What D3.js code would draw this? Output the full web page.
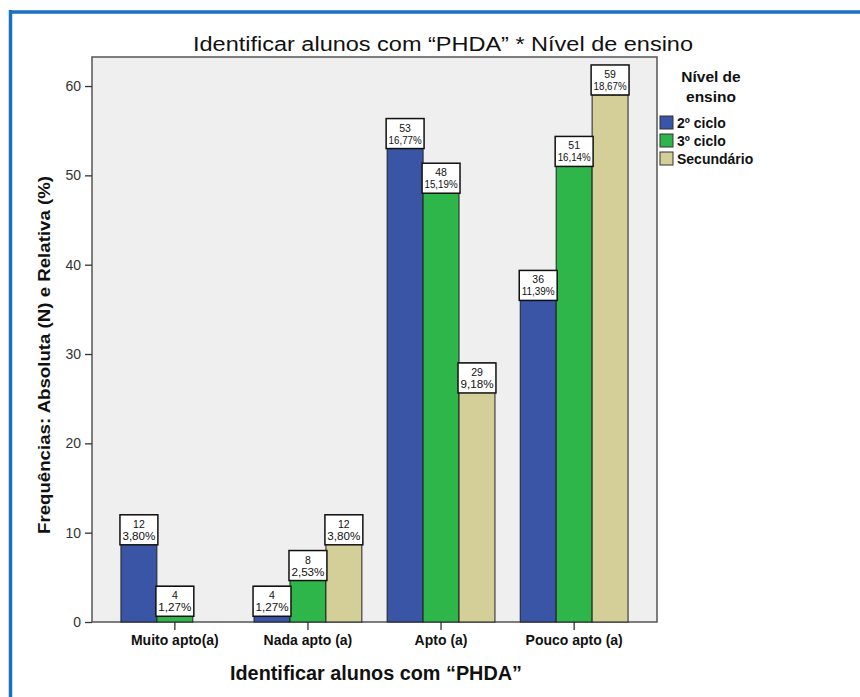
<!DOCTYPE html>
<html><head><meta charset="utf-8">
<script src="https://cdn.jsdelivr.net/npm/d3@7"></script>
<style>body{margin:0;background:#fff}svg{display:block}</style>
</head><body>
<script>
const categories = ["Muito apto(a)", "Nada apto (a)", "Apto (a)", "Pouco apto (a)"];
const seriesNames = ["2º ciclo", "3º ciclo", "Secundário"];
const counts2 = [12, 4, 53, 36];
const counts3 = [4, 8, 48, 51];
const countsSec = [0, 12, 29, 59];
const pct2 = ["3,80%", "1,27%", "16,77%", "11,39%"];
const pct3 = ["1,27%", "2,53%", "15,19%", "16,14%"];
const pctSec = ["", "3,80%", "9,18%", "18,67%"];
const yTicks = [0, 10, 20, 30, 40, 50, 60];
const colors = ["#3a54a6", "#2eb64a", "#d4cf98"];

(function () {
const W = 860, H = 697;
const svg = d3.select("body").append("svg").attr("width", W).attr("height", H);
const font = "'Liberation Sans Narrow','Arial Narrow','Liberation Sans',Arial,sans-serif";
const fontReg = "'Liberation Sans',Arial,sans-serif";

svg.append("rect").attr("x", 0).attr("y", 0).attr("width", W).attr("height", H).attr("fill", "#fff");
svg.append("line").attr("x1", 9).attr("x2", W).attr("y1", 12).attr("y2", 12).attr("stroke", "#1a6fbf").attr("stroke-width", 3.5);
svg.append("line").attr("x1", 10.5).attr("x2", 10.5).attr("y1", 10).attr("y2", H).attr("stroke", "#1a6fbf").attr("stroke-width", 3.5);

const pL = 92, pR = 657, pT = 57, pB = 622;
const x = d3.scaleBand().domain(categories).range([pL, pR]).paddingInner(0.19).paddingOuter(0.2175);
const xs = d3.scaleBand().domain(seriesNames).range([0, x.bandwidth()]);
const y = d3.scaleLinear().domain([0, 63.25]).range([pB, pT]);

svg.append("rect").attr("x", pL).attr("y", pT).attr("width", pR - pL).attr("height", pB - pT)
  .attr("fill", "#efefef").attr("stroke", "#555").attr("stroke-width", 1.5);

const yAxis = svg.append("g").attr("transform", `translate(${pL},0)`)
  .call(d3.axisLeft(y).tickValues(yTicks).tickSize(7).tickSizeOuter(0));
yAxis.select(".domain").remove();
yAxis.selectAll("line").attr("stroke", "#333").attr("stroke-width", 1.3);
yAxis.selectAll("text").attr("font-family", fontReg).attr("font-size", 14).attr("fill", "#333").attr("dx", -1);

const xAxis = svg.append("g").attr("transform", `translate(0,${pB})`)
  .call(d3.axisBottom(x).tickSize(8).tickSizeOuter(0).tickPadding(5));
xAxis.select(".domain").remove();
xAxis.selectAll("line").attr("stroke", "#333").attr("stroke-width", 1.3);
xAxis.selectAll("text").attr("font-family", font).attr("font-size", 14).attr("font-weight", "bold").attr("fill", "#111");

const series = [
  {name: seriesNames[0], vals: counts2, pct: pct2},
  {name: seriesNames[1], vals: counts3, pct: pct3},
  {name: seriesNames[2], vals: countsSec, pct: pctSec}
];

series.forEach((s, si) => {
  const g = svg.append("g");
  categories.forEach((c, ci) => {
    const v = s.vals[ci];
    if (!v) return;
    const bx = x(c) + xs(s.name);
    const bw = xs.bandwidth();
    g.append("rect").attr("x", bx).attr("y", y(v)).attr("width", bw).attr("height", y(0) - y(v))
      .attr("fill", colors[si]).attr("stroke", "#222").attr("stroke-width", 1);
  });
});

series.forEach((s, si) => {
  categories.forEach((c, ci) => {
    const v = s.vals[ci];
    if (!v) return;
    const bx = x(c) + xs(s.name);
    const bw = xs.bandwidth();
    const bh = 30, bwid = bw + 2;
    const by = v >= 30 ? y(v) - bh : y(v);
    const g = svg.append("g");
    g.append("rect").attr("x", bx + bw / 2 - bwid / 2).attr("y", by).attr("width", bwid).attr("height", bh)
      .attr("fill", "#fff").attr("stroke", "#111").attr("stroke-width", 1.5);
    g.append("text").attr("x", bx + bw / 2).attr("y", by + 13).attr("text-anchor", "middle")
      .attr("font-family", font).attr("font-size", 10.5).attr("fill", "#111").text(v);
    g.append("text").attr("x", bx + bw / 2).attr("y", by + 25).attr("text-anchor", "middle")
      .attr("font-family", font).attr("font-size", 10.5).attr("fill", "#111")
      .attr("textLength", 33).attr("lengthAdjust", "spacingAndGlyphs").text(s.pct[ci]);
  });
});

svg.append("text").attr("x", 443).attr("y", 51).attr("text-anchor", "middle")
  .attr("font-family", font).attr("font-size", 20).attr("fill", "#111")
  .attr("textLength", 500).attr("lengthAdjust", "spacingAndGlyphs")
  .text("Identificar alunos com “PHDA” * Nível de ensino");

svg.append("text").attr("x", 376).attr("y", 680).attr("text-anchor", "middle")
  .attr("font-family", font).attr("font-size", 20).attr("font-weight", "bold").attr("fill", "#111")
  .attr("textLength", 292).attr("lengthAdjust", "spacingAndGlyphs")
  .text("Identificar alunos com “PHDA”");

svg.append("text").attr("transform", "translate(50,355) rotate(-90)").attr("text-anchor", "middle")
  .attr("font-family", fontReg).attr("font-size", 17).attr("font-weight", "bold").attr("fill", "#111")
  .attr("textLength", 358).attr("lengthAdjust", "spacingAndGlyphs")
  .text("Frequências: Absoluta (N) e Relativa (%)");

const lg = svg.append("g");
lg.append("text").attr("x", 711).attr("y", 82).attr("text-anchor", "middle")
  .attr("font-family", fontReg).attr("font-size", 15.5).attr("font-weight", "bold").attr("fill", "#111").text("Nível de");
lg.append("text").attr("x", 711).attr("y", 102).attr("text-anchor", "middle")
  .attr("font-family", fontReg).attr("font-size", 15.5).attr("font-weight", "bold").attr("fill", "#111").text("ensino");
seriesNames.forEach((n, i) => {
  lg.append("rect").attr("x", 660).attr("y", 116 + i * 18).attr("width", 13).attr("height", 13)
    .attr("fill", colors[i]).attr("stroke", "#333").attr("stroke-width", 1);
  lg.append("text").attr("x", 677).attr("y", 127.5 + i * 18)
    .attr("font-family", fontReg).attr("font-size", 14).attr("font-weight", "bold").attr("fill", "#111").text(n);
});
})();
</script>
</body></html>
